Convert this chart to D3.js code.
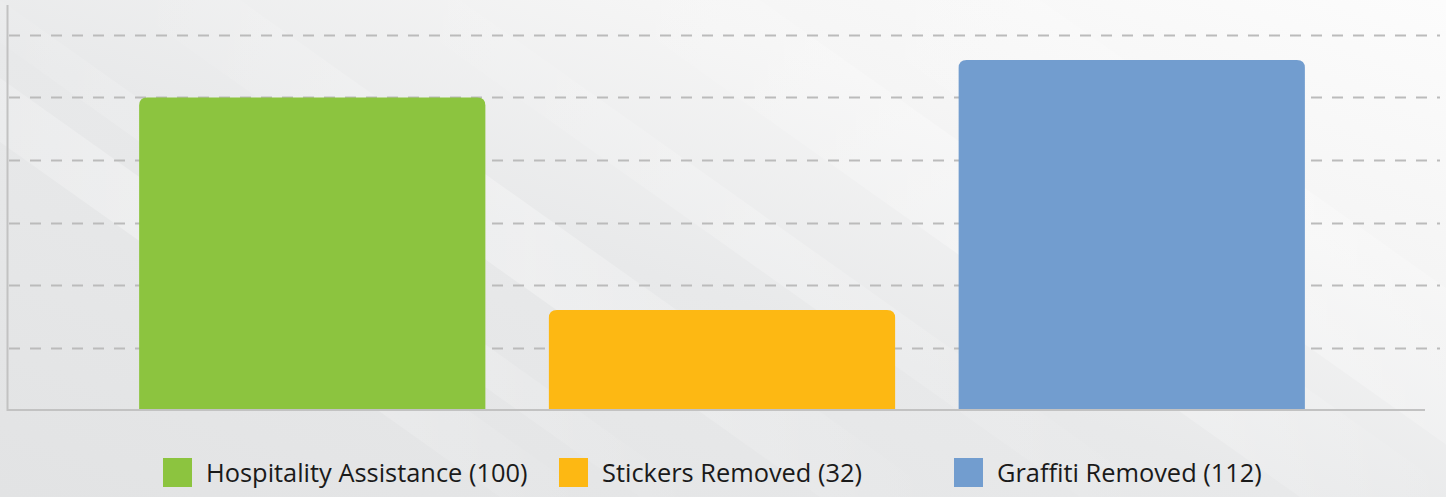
<!DOCTYPE html>
<html><head><meta charset="utf-8">
<script src="https://cdn.jsdelivr.net/npm/d3@7"></script>
<style>html,body{margin:0;padding:0;background:#eceded;overflow:hidden}</style>
</head><body>
<svg id="c" width="1446" height="497"></svg>
<script>
const categories = ["Hospitality Assistance", "Stickers Removed", "Graffiti Removed"];
const values = [100, 32, 112];
const colors = ["#8cc43f", "#fdb813", "#729dcf"];
const yTicks = [0, 20, 40, 60, 80, 100, 120];

const W = 1446, H = 497;
const svg = d3.select("#c");
const defs = svg.append("defs");
const bg = defs.append("linearGradient").attr("id","bg").attr("x1","0").attr("y1","1").attr("x2","1").attr("y2","0");
bg.append("stop").attr("offset","0").attr("stop-color","#e2e3e4");
bg.append("stop").attr("offset","0.45").attr("stop-color","#e8e9ea");
bg.append("stop").attr("offset","0.72").attr("stop-color","#f5f5f5");
bg.append("stop").attr("offset","1").attr("stop-color","#fcfcfc");
svg.append("rect").attr("width",W).attr("height",H).attr("fill","url(#bg)");
// diagonal light streaks
const streaks = [[-200,0.35,90],[-60,0.3,60],[120,0.3,120],[380,0.22,80],[600,0.35,160],[820,0.3,220]];
const sg = defs.append("linearGradient").attr("id","st").attr("x1","0").attr("y1","0").attr("x2","1").attr("y2","0");
sg.append("stop").attr("offset","0").attr("stop-color","#fff").attr("stop-opacity","0");
sg.append("stop").attr("offset","0.5").attr("stop-color","#fff").attr("stop-opacity","1");
sg.append("stop").attr("offset","1").attr("stop-color","#fff").attr("stop-opacity","0");
streaks.forEach(([x0,op,w])=>{
  svg.append("polygon")
    .attr("points",`${x0},0 ${x0+w},0 ${x0+w+700},${H} ${x0+700},${H}`)
    .attr("fill","url(#st)").attr("opacity",op);
});

const x = d3.scaleBand().domain(categories).range([8,1436]).paddingInner(0.155).paddingOuter(0.32);
const y = d3.scaleLinear().domain([0,120]).range([410,35]);

// gridlines
svg.append("g").selectAll("line").data(yTicks.filter(d=>d>0)).join("line")
  .attr("x1",8).attr("x2",1440)
  .attr("y1",d=>Math.round(y(d))+0.5).attr("y2",d=>Math.round(y(d))+0.5)
  .attr("stroke","#bbbbbb").attr("stroke-width",2).attr("stroke-dasharray","11,10")
  .attr("stroke-dashoffset",-1);

// bars with rounded top corners
const r = 8;
svg.append("g").selectAll("path").data(categories).join("path")
  .attr("d",(c,i)=>{
    const x0 = x(c), w = x.bandwidth(), y0 = y(values[i]), y1 = y(0);
    return `M${x0},${y1}V${y0+r}Q${x0},${y0} ${x0+r},${y0}H${x0+w-r}Q${x0+w},${y0} ${x0+w},${y0+r}V${y1}Z`;
  })
  .attr("fill",(c,i)=>colors[i]);

// axes lines
svg.append("line").attr("x1",7.5).attr("x2",7.5).attr("y1",5).attr("y2",411).attr("stroke","#c2c2c2").attr("stroke-width",2);
svg.append("line").attr("x1",7).attr("x2",1425).attr("y1",410).attr("y2",410).attr("stroke","#c2c2c2").attr("stroke-width",2);

// legend
const legX = [163, 559, 954];
const lg = svg.append("g").selectAll("g").data(categories).join("g")
  .attr("transform",(c,i)=>`translate(${legX[i]},458)`);
lg.append("rect").attr("width",29).attr("height",29).attr("fill",(c,i)=>colors[i]);
lg.append("text").attr("x",43).attr("y",24)
  .attr("font-family","'Open Sans', 'Noto Sans', sans-serif").attr("font-size",25.4)
  .attr("fill","#1a1a1a")
  .text((c,i)=>`${c} (${values[i]})`);
</script>
</body></html>
